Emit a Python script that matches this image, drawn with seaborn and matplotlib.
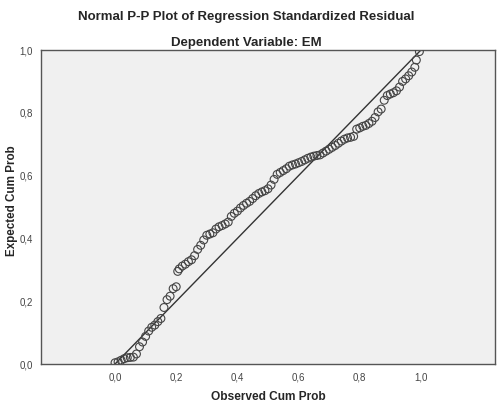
"""
Normal P-P plot of regression standardized residual (SPSS style).
"""
import matplotlib
matplotlib.use("Agg")
import matplotlib.pyplot as plt
import seaborn as sns
import pandas as pd

# observed vs expected cumulative probabilities
observed = [0.00, 0.01, 0.02, 0.03, 0.04, 0.05, 0.06, 0.07, 0.08, 0.09,
            0.10, 0.11, 0.12, 0.13, 0.14, 0.15, 0.16, 0.17, 0.18, 0.19,
            0.20, 0.205, 0.21, 0.22, 0.23, 0.24, 0.25, 0.26, 0.27, 0.28,
            0.29, 0.30, 0.31, 0.32, 0.33, 0.34, 0.35, 0.36, 0.37, 0.38,
            0.39, 0.40, 0.41, 0.42, 0.43, 0.44, 0.45, 0.46, 0.47, 0.48,
            0.49, 0.50, 0.51, 0.52, 0.53, 0.54, 0.55, 0.56, 0.57, 0.58,
            0.59, 0.60, 0.61, 0.62, 0.63, 0.64, 0.65, 0.66, 0.67, 0.68,
            0.69, 0.70, 0.71, 0.72, 0.73, 0.74, 0.75, 0.76, 0.77, 0.78,
            0.79, 0.80, 0.81, 0.82, 0.83, 0.84, 0.85, 0.86, 0.87, 0.88,
            0.89, 0.90, 0.91, 0.92, 0.93, 0.94, 0.95, 0.96, 0.97, 0.98,
            0.985, 0.995]
expected = [0.004, 0.007, 0.012, 0.017, 0.020, 0.021, 0.022, 0.032, 0.055, 0.070,
            0.088, 0.105, 0.117, 0.124, 0.135, 0.145, 0.180, 0.205, 0.216, 0.240,
            0.246, 0.295, 0.303, 0.312, 0.318, 0.326, 0.332, 0.345, 0.365, 0.378,
            0.395, 0.410, 0.414, 0.418, 0.430, 0.437, 0.441, 0.446, 0.452, 0.470,
            0.480, 0.487, 0.497, 0.505, 0.512, 0.518, 0.527, 0.536, 0.543, 0.548,
            0.552, 0.558, 0.570, 0.588, 0.604, 0.610, 0.616, 0.622, 0.630, 0.634,
            0.637, 0.641, 0.645, 0.650, 0.655, 0.659, 0.662, 0.664, 0.666, 0.672,
            0.678, 0.684, 0.690, 0.696, 0.703, 0.710, 0.716, 0.720, 0.722, 0.725,
            0.748, 0.752, 0.757, 0.760, 0.766, 0.773, 0.785, 0.803, 0.812, 0.840,
            0.855, 0.860, 0.864, 0.870, 0.882, 0.900, 0.908, 0.918, 0.930, 0.945,
            0.968, 0.995]

ticks = [0.0, 0.2, 0.4, 0.6, 0.8, 1.0]
tick_labels = ["0,0", "0,2", "0,4", "0,6", "0,8", "1,0"]

df = pd.DataFrame({"Observed Cum Prob": observed, "Expected Cum Prob": expected})

sns.set_style("white")
plt.rcParams["font.family"] = ["Liberation Sans", "DejaVu Sans"]

fig = plt.figure(figsize=(5.03, 4.05), dpi=100)
ax = fig.add_axes([0.0815, 0.1012, 0.9025, 0.7753])
ax.set_facecolor("#f0f0f0")

# reference diagonal
sns.lineplot(x=[0, 1], y=[0, 1], color="#333333", linewidth=1.0, ax=ax)

sns.scatterplot(data=df, x="Observed Cum Prob", y="Expected Cum Prob",
                facecolor="none", edgecolor="#444444", linewidth=0.8,
                s=32, ax=ax, zorder=3)

ax.set_xlim(-0.242, 1.242)
ax.set_ylim(0, 1)
ax.set_xticks(ticks)
ax.set_xticklabels(tick_labels)
ax.set_yticks(ticks)
ax.set_yticklabels(tick_labels)
ax.tick_params(axis="both", direction="out", length=4, width=0.8,
               colors="#555555", labelsize=7, labelcolor="#444444", pad=2)

for s in ax.spines.values():
    s.set_color("#555555")
    s.set_linewidth(1.0)

ax.set_xlabel("Observed Cum Prob", fontsize=8.6, fontweight="bold", labelpad=6)
ax.set_ylabel("Expected Cum Prob", fontsize=8.4, fontweight="bold")
ax.yaxis.set_label_coords(-0.051, 0.52)

fig.text(0.49, 0.958, "Normal P-P Plot of Regression Standardized Residual",
         ha="center", va="center", fontsize=9.5, fontweight="bold")
fig.text(0.49, 0.895, "Dependent Variable: EM",
         ha="center", va="center", fontsize=9.5, fontweight="bold")

fig.savefig("out.png", dpi=100)
